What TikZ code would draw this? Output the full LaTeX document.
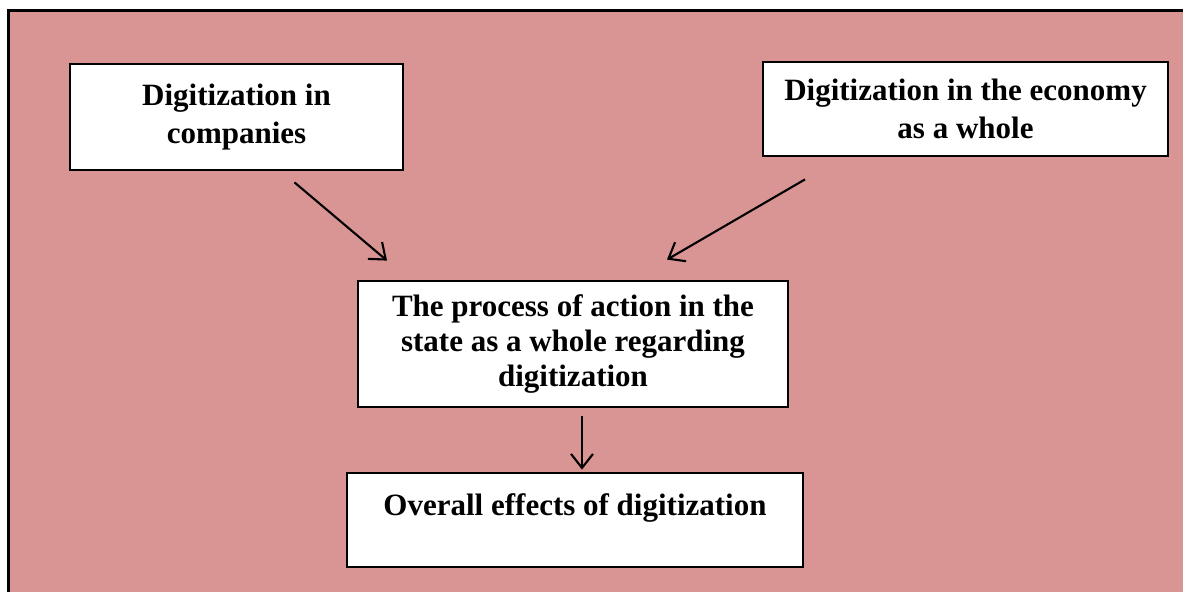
\documentclass[tikz,border=0pt]{standalone}
\usepackage{fontspec}
\setmainfont{Liberation Serif}
\usepackage{xcolor}
\usetikzlibrary{arrows.meta,positioning}
\definecolor{pinkbg}{RGB}{217,149,148}

\begin{document}
\begin{tikzpicture}[x=1pt,y=-1pt,>={Straight Barb[length=14pt,width=22pt]}]
\tikzstyle{every path}=[line width=2.1pt];
\tikzstyle{box}=[draw, fill=white, line width=2.8pt, align=center, inner sep=0pt, font=\bfseries\fontsize{31}{38}\selectfont]
\useasboundingbox (0,0) rectangle (1183,592);
\fill[pinkbg] (8,10) rectangle (1183,592);
\draw[line width=3pt] (8,592) -- (8,10) -- (1183,10);
\path (236.5,117) node (comp)[box, minimum width=333pt, minimum height=106pt] {Digitization in\\companies}
(965.5,109) node (econ)[box, minimum width=405pt, minimum height=94pt] {Digitization in the economy\\as a whole}
(573,344) node (proc)[box, minimum width=430pt, minimum height=126pt, font=\bfseries\fontsize{31}{35}\selectfont] {The process of action in the\\state as a whole regarding\\digitization}
(575,520) node (effects)[box, minimum width=456pt, text height=42pt, text depth=52pt] {Overall effects of digitization};
\draw[->] ([xshift=58pt,yshift=-11pt]comp.south) -- ([xshift=-186pt,yshift=19pt]proc.north);
\draw[->] ([xshift=-160.5pt,yshift=-22pt]econ.south) -- ([xshift=94pt,yshift=20pt]proc.north);
\draw[->] ([xshift=9pt,yshift=-8pt]proc.south) -- ([xshift=7pt,yshift=2pt]effects.north);
\end{tikzpicture}
\end{document}
